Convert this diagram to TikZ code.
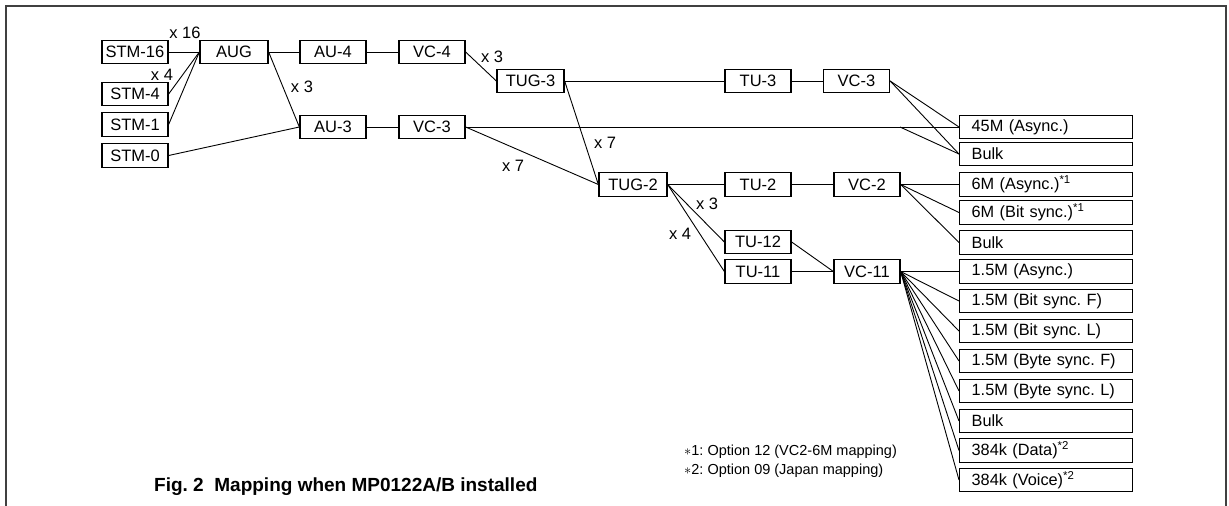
\documentclass[tikz,border=0pt]{standalone}
\usepackage{fontspec}
\setmainfont{Liberation Sans}
\frenchspacing
\begin{document}
\begin{tikzpicture}[x=1pt,y=-1pt,
  box/.style={draw,line width=1.3pt,minimum width=66pt,minimum height=23.5pt,inner sep=0pt,font=\fontsize{16.5}{18}\selectfont},
  rbox/.style={draw,line width=1.3pt,anchor=west,text width=149pt,align=left,inner xsep=12pt,inner ysep=0pt,minimum height=23.5pt,font=\fontsize{16.3}{18}\selectfont},
  lbl/.style={inner sep=0pt,font=\fontsize{16.5}{18}\selectfont},
  note/.style={inner sep=0pt,anchor=west,font=\fontsize{14.5}{16}\selectfont},
  conn/.style={line width=0.9pt}]
\useasboundingbox (0,0) rectangle (1229,506);
\draw[line width=1.6pt,black!75] (6,506) -- (6,6) -- (1226,6) -- (1226,506);
% left boxes
\node[box] (stm16) at (135,52) {STM-16};
\node[box] (stm4) at (135,94) {STM-4};
\node[box] (stm1) at (135,124.5) {STM-1};
\node[box] (stm0) at (135,155.5) {STM-0};
\node[box,minimum width=68pt] (aug) at (234,52) {AUG};
\node[box] (au4) at (333,52) {AU-4};
\node[box] (vc4) at (432,52) {VC-4};
\node[box] (au3) at (333,127) {AU-3};
\node[box] (vc3a) at (432,127) {VC-3};
\node[box,minimum width=67pt] (tug3) at (530.5,81) {TUG-3};
\node[box] (tu3) at (758,81) {TU-3};
\node[box] (vc3b) at (856.5,81) {VC-3};
\node[box,minimum width=68pt] (tug2) at (633,184.5) {TUG-2};
\node[box] (tu2) at (758,184.5) {TU-2};
\node[box] (vc2) at (867,184.5) {VC-2};
\node[box] (tu12) at (758,242) {TU-12};
\node[box] (tu11) at (758,271.5) {TU-11};
\node[box] (vc11) at (867,271.5) {VC-11};
% right column
\node[rbox] (r45) at (959,127) {45M (Async.)};
\node[rbox] (bulka) at (959,154) {Bulk};
\node[rbox] (r6a) at (959,184.5) {6M (Async.)\textsuperscript{*1}};
\node[rbox] (r6b) at (959,212.5) {6M (Bit sync.)\textsuperscript{*1}};
\node[rbox] (bulkb) at (959,242.5) {Bulk};
\node[rbox] (r15a) at (959,271.5) {1.5M (Async.)};
\node[rbox] (r15b) at (959,301) {1.5M (Bit sync. F)};
\node[rbox] (r15c) at (959,331) {1.5M (Bit sync. L)};
\node[rbox] (r15d) at (959,361) {1.5M (Byte sync. F)};
\node[rbox] (r15e) at (959,391) {1.5M (Byte sync. L)};
\node[rbox] (bulkc) at (959,421) {Bulk};
\node[rbox] (r384a) at (959,450.5) {384k (Data)\textsuperscript{*2}};
\node[rbox] (r384b) at (959,480) {384k (Voice)\textsuperscript{*2}};
\coordinate (br) at (900,127);
% connectors
\draw[conn] (stm16.east) -- (aug.west);
\draw[conn] (stm4.east) -- (aug.west);
\draw[conn] (stm1.east) -- (aug.west);
\draw[conn] (stm0.east) -- (au3.west);
\draw[conn] (aug.east) -- (au4.west);
\draw[conn] (aug.east) -- (au3.west);
\draw[conn] (au4.east) -- (vc4.west);
\draw[conn] (vc4.east) -- (tug3.west);
\draw[conn] (au3.east) -- (vc3a.west);
\draw[conn] (vc3a.east) -- (r45.west);
\draw[conn] (br) -- (bulka.west);
\draw[conn] (vc3a.east) -- (tug2.west);
\draw[conn] (tug3.east) -- (tu3.west);
\draw[conn] (tug3.east) -- (tug2.west);
\draw[conn] (tu3.east) -- (vc3b.west);
\draw[conn] (vc3b.east) -- (r45.west);
\draw[conn] (vc3b.east) -- (bulka.west);
\draw[conn] (tug2.east) -- (tu2.west);
\draw[conn] (tug2.east) -- (tu12.west);
\draw[conn] (tug2.east) -- (tu11.west);
\draw[conn] (tu2.east) -- (vc2.west);
\draw[conn] (tu12.east) -- (vc11.west);
\draw[conn] (tu11.east) -- (vc11.west);
\foreach \t in {r6a,r6b,bulkb} \draw[conn] (vc2.east) -- (\t.west);
\foreach \t in {r15a,r15b,r15c,r15d,r15e,bulkc,r384a,r384b} \draw[conn] (vc11.east) -- (\t.west);
% multiplicity labels
\node[lbl] (m1) at (185,33) {x 16};
\node[lbl] (m2) at (162,75) {x 4};
\node[lbl] (m3) at (302,87) {x 3};
\node[lbl] (m4) at (492,57) {x 3};
\node[lbl] (m5) at (605,143) {x 7};
\node[lbl] (m6) at (513,166) {x 7};
\node[lbl] (m7) at (707,204) {x 3};
\node[lbl] (m8) at (680,234) {x 4};
% notes
\node[note] (n1) at (684,452) {$\ast$1: Option 12 (VC2-6M mapping)};
\node[note] (n2) at (684,471) {$\ast$2: Option 09 (Japan mapping)};
\node[inner sep=0pt,anchor=west,font=\bfseries\fontsize{19}{21}\selectfont] (cap) at (154,487) {Fig. 2\ \ Mapping when MP0122A/B installed};
\end{tikzpicture}
\end{document}
